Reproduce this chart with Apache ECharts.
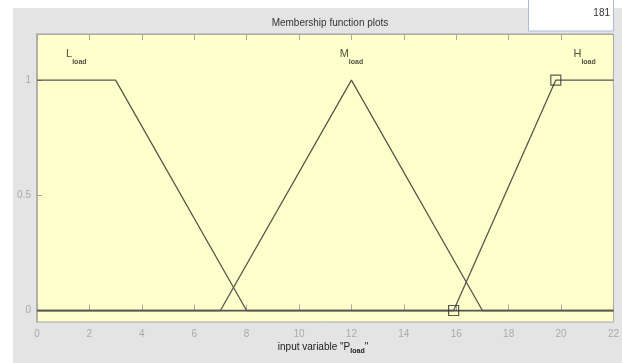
<!DOCTYPE html>
<html>
<head>
<meta charset="utf-8">
<script src="https://cdn.jsdelivr.net/npm/echarts@6/dist/echarts.min.js"></script>
<style>
  html, body { margin: 0; padding: 0; background: #ffffff; }
  #chart { width: 622px; height: 363px; }
</style>
</head>
<body>
<div id="chart"></div>
<script>
// Input variable P_load, universe of discourse [0, 22]
var xTicks = [0, 2, 4, 6, 8, 10, 12, 14, 16, 18, 20, 22];
var yTicks = [0, 0.5, 1];

// Membership functions (breakpoints and degrees)
var lowX  = [0, 3, 8, 22];
var lowY  = [1, 1, 0, 0];
var medX  = [0, 7, 12, 17, 22];
var medY  = [0, 0, 1, 0, 0];
var highX = [0, 15.9, 19.8, 22];
var highY = [0, 0, 1, 1];

// Selected function vertices (square handles)
var handleX = [15.9, 19.8];
var handleY = [0, 1];

// Function names and where each is written
var mfNames  = ['L', 'M', 'H'];
var mfSub    = 'load';
var mfLabelX = [1.5, 12, 20.9];
var mfLabelY = [1.1, 1.1, 1.1];

var counterText = '181';

function pairs(xs, ys) {
  return xs.map(function (x, i) { return [x, ys[i]]; });
}

var lineColor = '#57574c';
var font = 'Liberation Sans, Arial, sans-serif';

var chart = echarts.init(document.getElementById('chart'), null, { renderer: 'canvas' });

var lineSeries = [
  { name: 'L', data: pairs(lowX, lowY) },
  { name: 'M', data: pairs(medX, medY) },
  { name: 'H', data: pairs(highX, highY) }
].map(function (s) {
  return {
    type: 'line',
    name: s.name,
    data: s.data,
    showSymbol: false,
    animation: false,
    lineStyle: { color: lineColor, width: 1.3 },
    z: 3
  };
});

var labelRich = {
  a: { fontFamily: font, fontSize: 11, color: '#222', lineHeight: 17, verticalAlign: 'top' },
  b: { fontFamily: font, fontSize: 7, color: '#222', lineHeight: 17, verticalAlign: 'bottom', fontWeight: 'bold' }
};

var option = {
  animation: false,
  backgroundColor: 'transparent',
  title: {
    text: 'Membership function plots',
    left: 325,
    top: 13,
    textAlign: 'center',
    textStyle: { fontFamily: font, fontSize: 10, fontWeight: 'normal', color: '#333' }
  },
  grid: {
    left: 37, right: 7.5, top: 34, bottom: 41,
    show: true,
    backgroundColor: '#ffffcc',
    borderColor: '#a8a8a8',
    borderWidth: 1
  },
  xAxis: [
    {
      type: 'value', min: 0, max: 22, interval: 2,
      position: 'bottom',
      axisLine: { show: true, lineStyle: { color: '#a8a8a8', width: 1.5 } },
      axisTick: { show: true, inside: true, length: 6, lineStyle: { color: '#a8a8a8' } },
      axisLabel: { color: '#aaaaaa', fontFamily: font, fontSize: 10, margin: 7,
        formatter: function (v) { return xTicks.indexOf(v) >= 0 ? String(v) : ''; } },
      splitLine: { show: false }
    },
    {
      type: 'value', min: 0, max: 22, interval: 2,
      position: 'top',
      axisLine: { show: true, lineStyle: { color: '#a8a8a8' } },
      axisTick: { show: true, inside: true, length: 6, lineStyle: { color: '#a8a8a8' } },
      axisLabel: { show: false },
      splitLine: { show: false }
    }
  ],
  yAxis: {
    type: 'value', min: -0.05, max: 1.2,
    axisLine: { show: true, lineStyle: { color: '#a8a8a8', width: 1.5 } },
    axisTick: { show: true, inside: true, length: 5, customValues: yTicks, lineStyle: { color: '#a8a8a8' } },
    axisLabel: { show: true, customValues: yTicks, color: '#aaaaaa', fontFamily: font, fontSize: 10, margin: 6 },
    splitLine: { show: false }
  },
  graphic: [
    { type: 'rect', shape: { x: 13, y: 8, width: 609, height: 355 }, style: { fill: '#e4e4e4' }, z: -10, silent: true },
    { type: 'rect', shape: { x: 528.5, y: -2, width: 85, height: 33 }, style: { fill: '#ffffff', stroke: '#a9bed6', lineWidth: 1 }, z: -5, silent: true },
    { type: 'text', x: 610, y: 8, style: { text: counterText, fill: '#333', font: '10px ' + font, textAlign: 'right' }, z: 5, silent: true },
    {
      type: 'text', x: 323, y: 342, silent: true,
      style: {
        text: '{t|input variable "P}{s|load}{t|"}',
        textAlign: 'center',
        rich: {
          t: { fontFamily: font, fontSize: 10, fill: '#222', lineHeight: 13, verticalAlign: 'top' },
          s: { fontFamily: font, fontSize: 7, fill: '#222', lineHeight: 13, verticalAlign: 'bottom', fontWeight: 'bold' }
        }
      }
    }
  ],
  series: lineSeries.concat([
    {
      type: 'scatter',
      data: pairs(handleX, handleY),
      symbol: 'rect',
      symbolSize: 10,
      animation: false,
      itemStyle: { color: 'rgba(0,0,0,0)', borderColor: '#333', borderWidth: 1.2 },
      z: 4
    },
    {
      type: 'scatter',
      data: mfNames.map(function (n, i) { return { value: [mfLabelX[i], mfLabelY[i]], name: n }; }),
      symbolSize: 0,
      animation: false,
      label: {
        show: true,
        position: 'inside',
        formatter: function (p) { return '{a|' + p.name + '}{b|' + mfSub + '}'; },
        rich: labelRich
      },
      z: 5
    }
  ])
};

chart.setOption(option);
</script>
</body>
</html>
